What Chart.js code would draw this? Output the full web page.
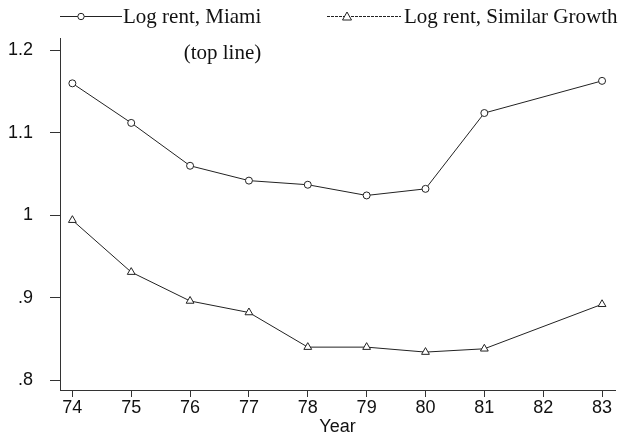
<!DOCTYPE html>
<html>
<head>
<meta charset="utf-8">
<script src="https://cdn.jsdelivr.net/npm/chart.js@4/dist/chart.umd.min.js"></script>
<style>
  html, body { margin: 0; padding: 0; background: #fff; }
  #wrap { width: 621px; height: 438px; }
</style>
</head>
<body>
<div id="wrap"><canvas id="rentChart" width="621" height="438"></canvas></div>
<script>
// data
const years = [74, 75, 76, 77, 78, 79, 80, 81, 83];
const miamiRent = [1.160, 1.112, 1.060, 1.042, 1.037, 1.024, 1.032, 1.124, 1.163];
const similarRent = [0.994, 0.931, 0.896, 0.882, 0.840, 0.840, 0.834, 0.838, 0.892];
const xTicks = [74, 75, 76, 77, 78, 79, 80, 81, 82, 83];
const yTicks = [0.8, 0.9, 1, 1.1, 1.2];
const yTickLabels = ['.8', '.9', '1', '1.1', '1.2'];
const seriesLabels = [['Log rent, Miami', '(top line)'], ['Log rent, Similar Growth']];

const lineColor = '#222';

function toPoints(vals) {
    return years.map((y, i) => ({ x: y, y: vals[i] }));
}

// legend drawn by hand: Stata-style, line sample + marker + serif text
const legendPlugin = {
    id: 'stataLegend',
    afterDraw(chart) {
        const ctx = chart.ctx;
        ctx.save();
        ctx.strokeStyle = lineColor;
        ctx.lineWidth = 1;
        ctx.font = '21px "Liberation Serif", serif';
        ctx.textBaseline = 'middle';

        // item 1
        ctx.beginPath();
        ctx.moveTo(60, 16.5); ctx.lineTo(122, 16.5);
        ctx.stroke();
        ctx.beginPath();
        ctx.fillStyle = '#fff';
        ctx.arc(81, 16.5, 3.2, 0, Math.PI * 2);
        ctx.fill(); ctx.stroke();
        ctx.fillStyle = '#111';
        ctx.textAlign = 'left';
        ctx.fillText(seriesLabels[0][0], 123, 17);
        const w1 = ctx.measureText(seriesLabels[0][0]).width;
        ctx.textAlign = 'right';
        ctx.fillText(seriesLabels[0][1], 123 + w1, 53);

        // item 2
        ctx.setLineDash([3, 1]);
        ctx.beginPath();
        ctx.moveTo(327, 16.5); ctx.lineTo(401, 16.5);
        ctx.stroke();
        ctx.setLineDash([]);
        ctx.beginPath();
        ctx.fillStyle = '#fff';
        ctx.moveTo(347, 12); ctx.lineTo(351.5, 20); ctx.lineTo(342.5, 20); ctx.closePath();
        ctx.fill(); ctx.stroke();
        ctx.fillStyle = '#111';
        ctx.textAlign = 'left';
        ctx.fillText(seriesLabels[1][0], 404, 17);
        ctx.restore();
    }
};

new Chart(document.getElementById('rentChart'), {
    type: 'line',
    data: {
        datasets: [{
            label: seriesLabels[0].join(' '),
            data: toPoints(miamiRent),
            borderColor: lineColor,
            borderWidth: 1,
            pointStyle: 'circle',
            pointRadius: 3.5,
            pointBorderWidth: 1,
            pointBorderColor: lineColor,
            pointBackgroundColor: '#fff',
            tension: 0
        }, {
            label: seriesLabels[1][0],
            data: toPoints(similarRent),
            borderColor: lineColor,
            borderWidth: 1,
            pointStyle: 'triangle',
            pointRadius: 4.5,
            pointBorderWidth: 1,
            pointBorderColor: lineColor,
            pointBackgroundColor: '#fff',
            tension: 0
        }]
    },
    options: {
        responsive: false,
        animation: false,
        layout: { padding: { top: 38, right: 6, left: 0, bottom: 0 } },
        plugins: {
            legend: { display: false },
            tooltip: { enabled: false }
        },
        scales: {
            x: {
                type: 'linear',
                min: 73.79,
                max: 83.22,
                afterBuildTicks: axis => { axis.ticks = xTicks.map(v => ({ value: v })); },
                afterFit: axis => { axis.height = 48; },
                border: { color: '#333', width: 1 },
                grid: { drawOnChartArea: false, drawTicks: true, tickLength: 7, color: '#333' },
                ticks: {
                    color: '#111',
                    padding: 0,
                    maxRotation: 0,
                    font: { family: '"Liberation Sans", Arial, sans-serif', size: 18 },
                    callback: v => String(v)
                },
                title: {
                    display: true,
                    text: 'Year',
                    color: '#111',
                    padding: { top: 0, bottom: 0 },
                    font: { family: '"Liberation Sans", Arial, sans-serif', size: 18 }
                }
            },
            y: {
                type: 'linear',
                min: 0.788,
                max: 1.215,
                afterBuildTicks: axis => { axis.ticks = yTicks.map(v => ({ value: v })); },
                afterFit: axis => { axis.width = 60; },
                border: { color: '#333', width: 1 },
                grid: { drawOnChartArea: false, drawTicks: true, tickLength: 10, color: '#333' },
                ticks: {
                    color: '#111',
                    padding: 17,
                    font: { family: '"Liberation Sans", Arial, sans-serif', size: 18 },
                    callback: v => yTickLabels[yTicks.findIndex(t => Math.abs(t - v) < 1e-6)]
                }
            }
        }
    },
    plugins: [legendPlugin]
});
</script>
</body>
</html>
